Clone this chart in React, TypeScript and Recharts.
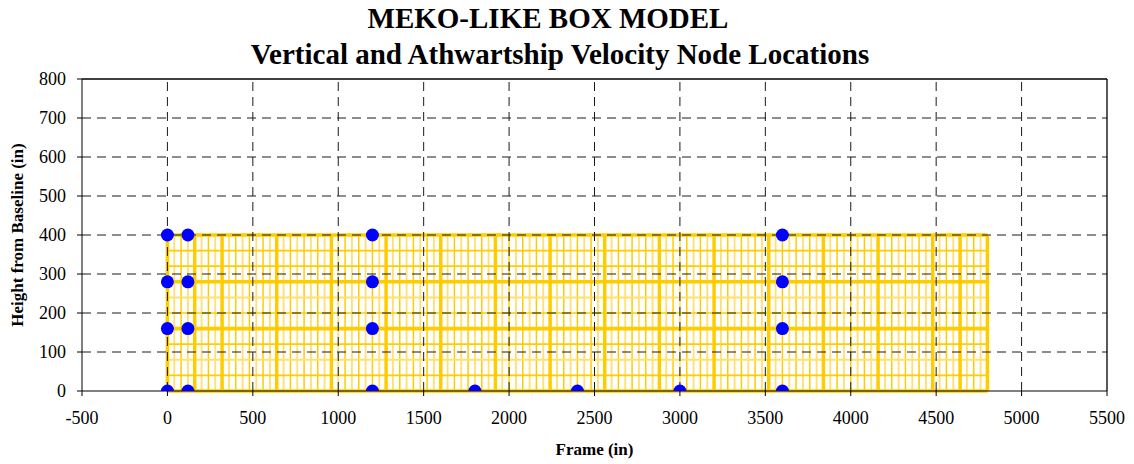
import React from "react";
import { ScatterChart, Scatter, XAxis, YAxis, ReferenceLine, Label } from "recharts";

const frameTicks = [-500, 0, 500, 1000, 1500, 2000, 2500, 3000, 3500, 4000, 4500, 5000, 5500];
const heightTicks = [0, 100, 200, 300, 400, 500, 600, 700, 800];

// box model extents
const boxFrames = [0, 4800];
const boxHeights = [0, 400];

// yellow frame lines
const thickFrames = [0, 160, 320, 640, 960, 1280, 1600, 1920, 2240, 2560, 2880, 3200, 3520, 3840, 4160, 4480, 4640, 4800];
const darkFrames = [
  0, 80, 160, 240, 320, 400, 480, 560, 640, 720, 800, 880, 960, 1040, 1120, 1200, 1280, 1360, 1440, 1520,
  1600, 1680, 1760, 1840, 1920, 2000, 2080, 2160, 2240, 2320, 2400, 2480, 2560, 2640, 2720, 2800, 2880,
  2960, 3040, 3120, 3200, 3280, 3360, 3440, 3520, 3600, 3680, 3760, 3840, 3920, 4000, 4080, 4160, 4240,
  4320, 4400, 4480, 4560, 4640, 4720, 4800,
];
const paleFrames = [
  40, 120, 200, 280, 360, 440, 520, 600, 680, 760, 840, 920, 1000, 1080, 1160, 1240, 1320, 1400, 1480,
  1560, 1640, 1720, 1800, 1880, 1960, 2040, 2120, 2200, 2280, 2360, 2440, 2520, 2600, 2680, 2760, 2840,
  2920, 3000, 3080, 3160, 3240, 3320, 3400, 3480, 3560, 3640, 3720, 3800, 3880, 3960, 4040, 4120, 4200,
  4280, 4360, 4440, 4520, 4600, 4680, 4760,
];
const thickHeights = [0, 160, 280, 400];
const darkHeights = [40, 120, 200, 320, 360];
const paleHeights = [80, 240];

// velocity nodes
const nodeFrames = [0, 0, 0, 0, 120, 120, 120, 120, 1200, 1200, 1200, 1200, 1800, 2400, 3000, 3600, 3600, 3600, 3600];
const nodeHeights = [0, 160, 280, 400, 0, 160, 280, 400, 0, 160, 280, 400, 0, 0, 0, 0, 160, 280, 400];

const nodes = nodeFrames.map((f, i) => ({ frame: f, height: nodeHeights[i] }));

const serif = "'Liberation Serif', 'Times New Roman', serif";
const YELLOW = "#FFCC00";
const PALE = "#FFE070";

const vLine = (f: number, color: string, w: number, key: string) => (
  <ReferenceLine
    key={key}
    segment={[{ x: f, y: boxHeights[0] }, { x: f, y: boxHeights[1] }]}
    stroke={color}
    strokeWidth={w}
  />
);
const hLine = (h: number, color: string, w: number, key: string) => (
  <ReferenceLine
    key={key}
    segment={[{ x: boxFrames[0], y: h }, { x: boxFrames[1], y: h }]}
    stroke={color}
    strokeWidth={w}
  />
);

const Dot = (props: any) => <circle cx={props.cx} cy={props.cy} r={6.5} fill="#0000FF" />;

export default function App() {
  return (
    <div style={{ position: "absolute", left: 0, top: 0, width: 1134, height: 464, background: "#fff" }}>
      <ScatterChart width={1134} height={464} margin={{ top: 79, right: 27, bottom: 0, left: 0 }}>
        <XAxis
          type="number"
          dataKey="frame"
          domain={[-500, 5500]}
          ticks={frameTicks}
          allowDataOverflow
          height={73}
          tickSize={5}
          tickMargin={15}
          stroke="#000"
          tick={{ fill: "#000", fontSize: 18, fontFamily: serif }}
        >
          <Label
            value="Frame (in)"
            position="insideBottom"
            offset={9}
            style={{ fontFamily: serif, fontSize: 17, fontWeight: "bold", fill: "#000" }}
          />
        </XAxis>
        <YAxis
          type="number"
          dataKey="height"
          domain={[0, 800]}
          ticks={heightTicks}
          allowDataOverflow
          width={82}
          tickSize={5}
          tickMargin={11}
          stroke="#000"
          tick={{ fill: "#000", fontSize: 18, fontFamily: serif }}
        >
          <Label
            value="Height from Baseline (in)"
            angle={-90}
            position="insideLeft"
            offset={17}
            style={{ fontFamily: serif, fontSize: 17, fontWeight: "bold", fill: "#000", textAnchor: "middle" }}
          />
        </YAxis>

        {paleFrames.map((f) => vLine(f, PALE, 1.8, "pf" + f))}
        {darkFrames.map((f) => vLine(f, YELLOW, 1.5, "df" + f))}
        {paleHeights.map((h) => hLine(h, PALE, 2, "ph" + h))}
        {darkHeights.map((h) => hLine(h, YELLOW, 1.7, "dh" + h))}
        {thickFrames.map((f) => vLine(f, YELLOW, 3.5, "tf" + f))}
        {thickHeights.map((h) => hLine(h, YELLOW, 3.6, "th" + h))}

        {frameTicks.slice(1, -1).map((f) => (
          <ReferenceLine key={"gx" + f} x={f} stroke="#1a1a1a" strokeDasharray="9 6" strokeWidth={1} />
        ))}
        {heightTicks.slice(1, -1).map((h) => (
          <ReferenceLine key={"gy" + h} y={h} stroke="#1a1a1a" strokeDasharray="9 6" strokeWidth={1} />
        ))}
        <ReferenceLine y={800} stroke="#000" strokeWidth={1.3} />
        <ReferenceLine x={5500} stroke="#000" strokeWidth={1.3} />

        <Scatter data={nodes} shape={Dot} isAnimationActive={false} />
      </ScatterChart>
      <svg
        width={1134}
        height={80}
        style={{ position: "absolute", left: 0, top: 0, pointerEvents: "none" }}
      >
        <text x={548} y={28} textAnchor="middle" fontFamily={serif} fontWeight="bold" fontSize={29} fill="#000">
          MEKO-LIKE BOX MODEL
        </text>
        <text x={560} y={64} textAnchor="middle" fontFamily={serif} fontWeight="bold" fontSize={29} fill="#000">
          Vertical and Athwartship Velocity Node Locations
        </text>
      </svg>
    </div>
  );
}
